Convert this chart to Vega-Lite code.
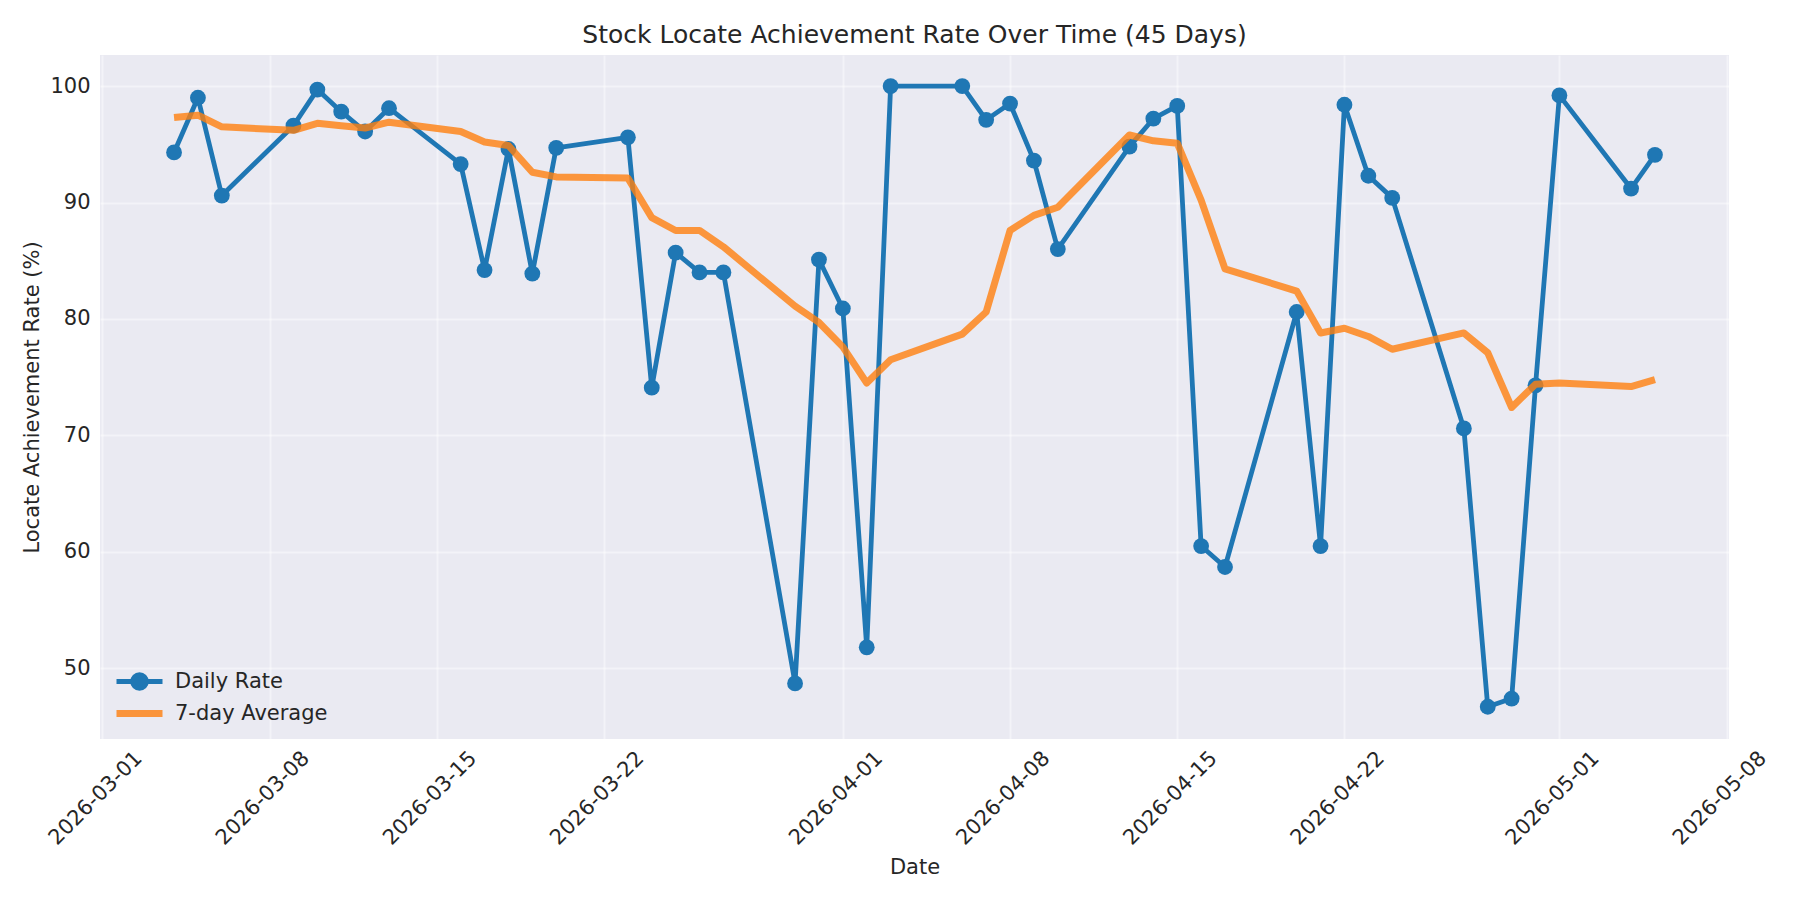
{
  "$schema": "https://vega.github.io/schema/vega-lite/v6.json",
  "width": 1629,
  "height": 684,
  "autosize": {"type": "none"},
  "padding": {"left": 100, "top": 55, "right": 71, "bottom": 161},
  "background": "white",
  "title": {
    "text": "Stock Locate Achievement Rate Over Time (45 Days)",
    "font": "DejaVu Sans",
    "fontSize": 25,
    "fontWeight": "normal",
    "color": "#262626",
    "anchor": "middle",
    "offset": 7
  },
  "config": {
    "view": {"fill": "#EAEAF2", "stroke": null},
    "axis": {
      "domain": false,
      "ticks": false,
      "grid": true,
      "gridColor": "white",
      "gridOpacity": 0.45,
      "gridWidth": 2,
      "labelFont": "DejaVu Sans",
      "labelFontSize": 21,
      "labelColor": "#262626",
      "titleFont": "DejaVu Sans",
      "titleFontSize": 21,
      "titleFontWeight": "normal",
      "titleColor": "#262626"
    },
    "legend": {
      "labelFont": "DejaVu Sans",
      "labelFontSize": 21,
      "labelColor": "#262626"
    }
  },
  "data": {
    "values": [
      {"date": "2026-03-04", "daily": 94.3, "avg": 97.3},
      {"date": "2026-03-05", "daily": 99.0, "avg": 97.5},
      {"date": "2026-03-06", "daily": 90.6, "avg": 96.5},
      {"date": "2026-03-09", "daily": 96.6, "avg": 96.2},
      {"date": "2026-03-10", "daily": 99.7, "avg": 96.8},
      {"date": "2026-03-11", "daily": 97.8, "avg": 96.6},
      {"date": "2026-03-12", "daily": 96.1, "avg": 96.4},
      {"date": "2026-03-13", "daily": 98.1, "avg": 96.9},
      {"date": "2026-03-16", "daily": 93.3, "avg": 96.1},
      {"date": "2026-03-17", "daily": 84.2, "avg": 95.2},
      {"date": "2026-03-18", "daily": 94.6, "avg": 94.9},
      {"date": "2026-03-19", "daily": 83.9, "avg": 92.6},
      {"date": "2026-03-20", "daily": 94.7, "avg": 92.2},
      {"date": "2026-03-23", "daily": 95.6, "avg": 92.1},
      {"date": "2026-03-24", "daily": 74.1, "avg": 88.7},
      {"date": "2026-03-25", "daily": 85.7, "avg": 87.6},
      {"date": "2026-03-26", "daily": 84.0, "avg": 87.6},
      {"date": "2026-03-27", "daily": 84.0, "avg": 86.2},
      {"date": "2026-03-30", "daily": 48.7, "avg": 81.1},
      {"date": "2026-03-31", "daily": 85.1, "avg": 79.7},
      {"date": "2026-04-01", "daily": 80.9, "avg": 77.6},
      {"date": "2026-04-02", "daily": 51.8, "avg": 74.5},
      {"date": "2026-04-03", "daily": 100.0, "avg": 76.5},
      {"date": "2026-04-06", "daily": 100.0, "avg": 78.7},
      {"date": "2026-04-07", "daily": 97.1, "avg": 80.6},
      {"date": "2026-04-08", "daily": 98.5, "avg": 87.6},
      {"date": "2026-04-09", "daily": 93.6, "avg": 88.9},
      {"date": "2026-04-10", "daily": 86.0, "avg": 89.6},
      {"date": "2026-04-13", "daily": 94.8, "avg": 95.8},
      {"date": "2026-04-14", "daily": 97.2, "avg": 95.3},
      {"date": "2026-04-15", "daily": 98.3, "avg": 95.1},
      {"date": "2026-04-16", "daily": 60.5, "avg": 90.2},
      {"date": "2026-04-17", "daily": 58.7, "avg": 84.3},
      {"date": "2026-04-20", "daily": 80.6, "avg": 82.4},
      {"date": "2026-04-21", "daily": 60.5, "avg": 78.8},
      {"date": "2026-04-22", "daily": 98.4, "avg": 79.2},
      {"date": "2026-04-23", "daily": 92.3, "avg": 78.5},
      {"date": "2026-04-24", "daily": 90.4, "avg": 77.4},
      {"date": "2026-04-27", "daily": 70.6, "avg": 78.8},
      {"date": "2026-04-28", "daily": 46.7, "avg": 77.1},
      {"date": "2026-04-29", "daily": 47.4, "avg": 72.4},
      {"date": "2026-04-30", "daily": 74.3, "avg": 74.4},
      {"date": "2026-05-01", "daily": 99.2, "avg": 74.5},
      {"date": "2026-05-04", "daily": 91.2, "avg": 74.2},
      {"date": "2026-05-05", "daily": 94.1, "avg": 74.8}
    ]
  },
  "encoding": {
    "x": {
      "field": "date",
      "type": "temporal",
      "title": "Date",
      "scale": {
        "type": "utc",
        "domain": [
          {"year": 2026, "month": 2, "date": 28, "hours": 21, "minutes": 36, "utc": true},
          {"year": 2026, "month": 5, "date": 8, "hours": 2, "minutes": 24, "utc": true}
        ]
      },
      "axis": {
        "values": [
          {"year": 2026, "month": 3, "date": 1, "utc": true},
          {"year": 2026, "month": 3, "date": 8, "utc": true},
          {"year": 2026, "month": 3, "date": 15, "utc": true},
          {"year": 2026, "month": 3, "date": 22, "utc": true},
          {"year": 2026, "month": 4, "date": 1, "utc": true},
          {"year": 2026, "month": 4, "date": 8, "utc": true},
          {"year": 2026, "month": 4, "date": 15, "utc": true},
          {"year": 2026, "month": 4, "date": 22, "utc": true},
          {"year": 2026, "month": 5, "date": 1, "utc": true},
          {"year": 2026, "month": 5, "date": 8, "utc": true}
        ],
        "labelExpr": "utcFormat(datum.value, '%Y-%m-%d')",
        "labelAngle": -45,
        "labelAlign": "center",
        "labelBaseline": "middle",
        "labelOffset": -7,
        "labelPadding": 59,
        "titlePadding": 8
      }
    }
  },
  "layer": [
    {
      "mark": {
        "type": "line",
        "strokeWidth": 4.8,
        "strokeJoin": "round",
        "point": {"filled": true, "size": 250, "opacity": 1}
      },
      "encoding": {
        "y": {
          "field": "daily",
          "type": "quantitative",
          "title": "Locate Achievement Rate (%)",
          "scale": {"domain": [43.93, 102.67], "nice": false, "zero": false},
          "axis": {"values": [50, 60, 70, 80, 90, 100], "labelPadding": 10, "titlePadding": 7}
        },
        "color": {
          "datum": "Daily Rate",
          "type": "nominal",
          "scale": {"domain": ["Daily Rate", "7-day Average"], "range": ["#1f77b4", "#ff7f0e"]},
          "legend": {
            "title": null,
            "orient": "none",
            "legendX": 29,
            "legendY": 616,
            "symbolSize": 2116,
            "symbolType": "M-1,0H1",
            "labelOffset": 25,
            "rowPadding": 1,
            "encode": {
              "symbols": {
                "update": {
                  "shape": {"signal": "datum.value === 'Daily Rate' ? 'M-1,0H1M-0.3,0A0.3,0.3 0 1,0 0.3,0A0.3,0.3 0 1,0 -0.3,0' : 'M-1,0H1'"},
                  "fill": {"signal": "datum.value === 'Daily Rate' ? '#1f77b4' : 'transparent'"},
                  "strokeWidth": {"signal": "datum.value === 'Daily Rate' ? 4.8 : 7"},
                  "opacity": {"signal": "datum.value === 'Daily Rate' ? 1 : 0.8"}
                }
              }
            }
          }
        }
      }
    },
    {
      "mark": {
        "type": "line",
        "strokeWidth": 7,
        "opacity": 0.8,
        "strokeJoin": "round"
      },
      "encoding": {
        "y": {"field": "avg", "type": "quantitative"},
        "color": {"datum": "7-day Average", "type": "nominal"}
      }
    }
  ]
}
